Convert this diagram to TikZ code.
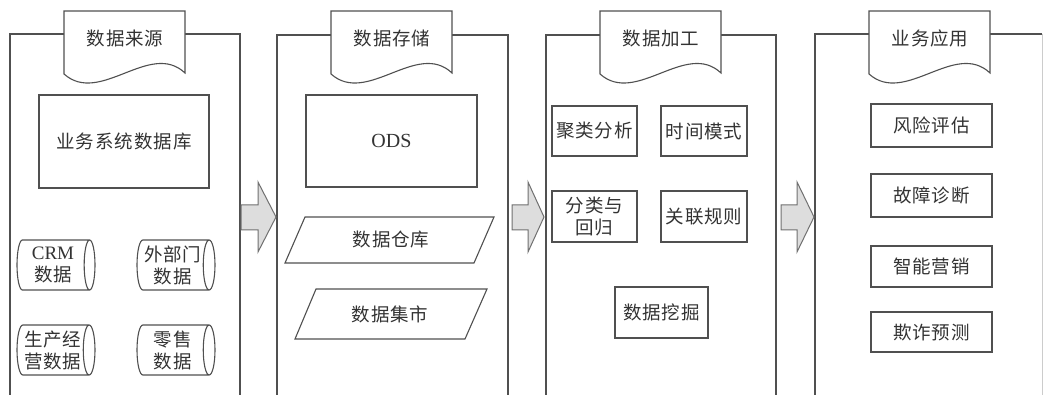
\documentclass[tikz,border=0pt]{standalone}
\usepackage{fontspec}
\setmainfont{Liberation Serif}
\newfontfamily\cjk{Noto Sans CJK SC}[LetterSpace=5]
\usetikzlibrary{shapes.geometric}
\definecolor{ln}{HTML}{505050}
\definecolor{tx}{HTML}{333333}
\definecolor{af}{HTML}{DDDDDD}
\definecolor{ao}{HTML}{707070}
\newcommand{\cjkfont}{\cjk\fontsize{18.5}{22}\selectfont}
\tikzset{
  panel/.style={draw=ln, line width=1.1pt, minimum height=420pt, anchor=north west, inner sep=0pt, outer sep=0pt},
  tabshape/.style={draw=ln, fill=white, line width=1.1pt},
  tabtext/.style={font=\cjkfont, text=tx, inner sep=0pt},
  box/.style={draw=ln, line width=1.1pt, font=\cjkfont, text=tx, inner sep=0pt, align=center},
  plain/.style={font=\cjkfont, text=tx, inner sep=0pt, align=center},
  cyl/.style={cylinder, shape aspect=0.3, draw=ln, line width=1.1pt, font=\cjkfont, text=tx,
    minimum width=50pt, minimum height=78pt, inner sep=0pt, align=center, anchor=shape center},
  blk/.style={draw=ao, fill=af, line width=1pt, line join=miter}
}
\begin{document}
\begin{tikzpicture}[x=1pt,y=-1pt]
\path[use as bounding box] (0,0) rectangle (1044,395);
\clip (0,0) rectangle (1044,395);
\fill[white] (0,0) rectangle (1044,395);

% panels
\node[panel, minimum width=230pt] (p1) at (10,34) {};
\node[panel, minimum width=231pt] (p2) at (277,35) {};
\node[panel, minimum width=230pt] (p3) at (546,35) {};
\coordinate (p4a) at (815,420);
\coordinate (p4b) at (1042,34);
\draw[ln, line width=1.1pt] (p4a) |- (p4b);
\draw[black!20, line width=1pt] (p4b) -- (1042,420);

% tabs
\foreach \L/\name/\txt in {64/t1/数据来源, 331/t2/数据存储, 600/t3/数据加工, 869/t4/业务应用}{
  \path[tabshape] (\L,74) -- (\L,11) -- (\L+121,11) -- (\L+121,73)
     .. controls (\L+86,40) and (\L+36,106) .. (\L,74) -- cycle;
  \node[tabtext] (\name) at (\L+61,38) {\txt};
}

% panel 1
\node[box, minimum width=170pt, minimum height=93pt] (ywdb) at (124,141.5) {业务系统数据库};
\node[cyl] (crm) at (56,265) {{\rmfamily\fontsize{19}{22}\selectfont CRM}\\数据};
\node[cyl] (wbm) at (176,265) {外部门\\数据};
\node[cyl] (scjy) at (56,350) {生产经\\营数据};
\node[cyl] (ls) at (176,350) {零售\\数据};

% panel 2
\node[box, minimum width=171pt, minimum height=92pt, font=\rmfamily\fontsize{20}{22}\selectfont] (ods) at (391.5,141) {ODS};
\draw[ln, line width=1.1pt] (285,263) -- (305,217) -- (494,217) -- (474,263) -- cycle;
\node[plain] (dw) at (391,240) {数据仓库};
\draw[ln, line width=1.1pt] (295,339) -- (316,289) -- (487,289) -- (465,339) -- cycle;
\node[plain] (dm) at (390,314) {数据集市};

% panel 3
\node[box, minimum width=85pt, minimum height=50pt] (jl) at (594.5,131) {聚类分析};
\node[box, minimum width=86pt, minimum height=50pt] (sj) at (704,131) {时间模式};
\node[box, minimum width=85pt, minimum height=51pt] (fl) at (594.5,216.5) {分类与\\回归};
\node[box, minimum width=86pt, minimum height=51pt] (gl) at (704,216.5) {关联规则};
\node[box, minimum width=93pt, minimum height=51pt] (wj) at (661.5,312.5) {数据挖掘};

% panel 4
\node[box, minimum width=121pt, minimum height=43pt] (fx) at (931.5,125.5) {风险评估};
\node[box, minimum width=121pt, minimum height=43pt] (gz) at (931.5,195.5) {故障诊断};
\node[box, minimum width=121pt, minimum height=41pt] (zn) at (931.5,266.5) {智能营销};
\node[box, minimum width=121pt, minimum height=40pt] (qz) at (931.5,332) {欺诈预测};

% block arrows
\foreach \a/\b/\c in {241/258/276, 512/528/544, 781/797/814}{
  \path[blk] (\a,205) -- (\b,205) -- (\b,182) -- (\c,217) -- (\b,252) -- (\b,230) -- (\a,230) -- cycle;
}
\end{tikzpicture}
\end{document}
